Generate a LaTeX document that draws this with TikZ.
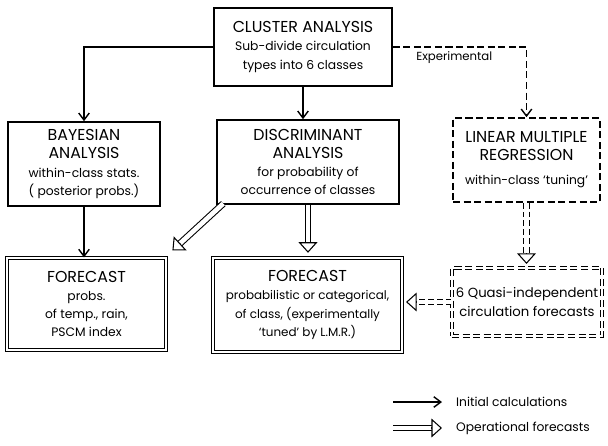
\documentclass[tikz,border=0pt]{standalone}
\usepackage{fontspec}
\setmainfont{Poppins}
\usetikzlibrary{arrows.meta,calc,positioning}
\newcommand\hdr[1]{{\fontsize{13.5}{15.5}\selectfont #1}}

\begin{document}
\begin{tikzpicture}[x=0.03cm,y=-0.03cm,
box/.style={rectangle,draw,line width=1.3pt,align=center,inner sep=2pt,font=\fontsize{10.5}{15.5}\selectfont},
dbox/.style={box,double,double distance=2.2pt,line width=0.9pt},
xbox/.style={box,dash pattern=on 6pt off 3pt},
initial/.style={line width=1.2pt,-{Straight Barb[length=6pt,width=9pt]}},
opline/.style={double,double distance=4pt,line width=0.9pt,shorten >=7pt},
ophead/.style={line width=0.9pt,-{Triangle[open,fill=white,length=9pt,width=16pt]}}]
    \useasboundingbox (0,0) rectangle (608,446);
    \node[box,minimum width=5.34cm,minimum height=2.34cm] (cluster) at (303,47) {\hdr{CLUSTER ANALYSIS}\\Sub-divide circulation\\types into 6 classes};
    \node[box,minimum width=4.56cm,minimum height=2.52cm] (bayes) at (84,164) {\hdr{BAYESIAN}\\\hdr{ANALYSIS}\\within-class stats.\\( posterior probs.)};
    \node[box,minimum width=5.46cm,minimum height=2.52cm] (discr) at (308,162) {\hdr{DISCRIMINANT}\\\hdr{ANALYSIS}\\for probability of\\occurrence of classes};
    \node[xbox,minimum width=4.41cm,minimum height=2.52cm] (lmr) at (526.5,160) {\hdr{LINEAR MULTIPLE}\\\hdr{REGRESSION}\\[5pt]within-class `tuning'};
    \node[dbox,minimum width=4.77cm,minimum height=2.76cm] (fcl) at (86.5,304) {\hdr{FORECAST}\\probs.\\of temp., rain,\\PSCM index};
    \node[dbox,minimum width=5.67cm,minimum height=2.82cm,font=\fontsize{10.2}{15.5}\selectfont] (fcm) at (307.5,305) {\hdr{FORECAST}\\probabilistic or categorical,\\of class, (experimentally\\`tuned' by L.M.R.)};
    \node[dbox,dash pattern=on 6pt off 3pt,minimum width=4.5cm,minimum height=2.04cm,font=\fontsize{11.3}{15.5}\selectfont] (quasi) at (527,302) {6 Quasi-independent\\circulation forecasts};
    % initial calculations
    \draw[initial] (cluster.west) -| (bayes.north);
    \draw[initial] (cluster.south) -- (cluster.south |- discr.north);
    \draw[initial,dash pattern=on 6pt off 3pt] (cluster.east) -| node[pos=0.23,below,font=\fontsize{10}{12}\selectfont] (exp) {Experimental} (lmr.north);
    \draw[initial] (bayes.south) -- (bayes.south |- fcl.north);
    % operational forecasts
    \coordinate (dtail) at ([xshift=6pt,yshift=1pt]discr.south west);
    \coordinate (dtip) at ([xshift=5pt,yshift=6pt]fcl.north east);
    \draw[opline] (dtail) -- (dtip);
    \draw[ophead] ($(dtip)!9pt!(dtail)$) -- (dtip);
    \coordinate (mtip) at ([yshift=4pt]discr.south |- fcm.north);
    \draw[opline] (discr.south) -- (mtip);
    \draw[ophead] ([yshift=9pt]mtip) -- (mtip);
    \coordinate (rtip) at ([yshift=3pt]lmr.south |- quasi.north);
    \draw[opline,dash pattern=on 5pt off 2.5pt] (lmr.south) -- (rtip);
    \draw[ophead] ([yshift=9pt]rtip) -- (rtip);
    \coordinate (ltip) at ([xshift=3pt]quasi.west -| fcm.east);
    \draw[opline,dash pattern=on 5pt off 2.5pt] (quasi.west) -- (ltip);
    \draw[ophead] ([xshift=9pt]ltip) -- (ltip);
    % key
    \coordinate (k1a) at (393,402);
    \coordinate (k1b) at (442,402);
    \draw[initial] (k1a) -- (k1b);
    \node[right,font=\fontsize{10.5}{12}\selectfont] (k1) at (452,402) {Initial calculations};
    \coordinate (k2a) at (393,428);
    \coordinate (k2b) at (442,428);
    \draw[opline] (k2a) -- (k2b);
    \draw[ophead] ([xshift=-9pt]k2b) -- (k2b);
    \node[right,font=\fontsize{10.5}{12}\selectfont] (k2) at (452,428) {Operational forecasts};
\end{tikzpicture}
\end{document}
